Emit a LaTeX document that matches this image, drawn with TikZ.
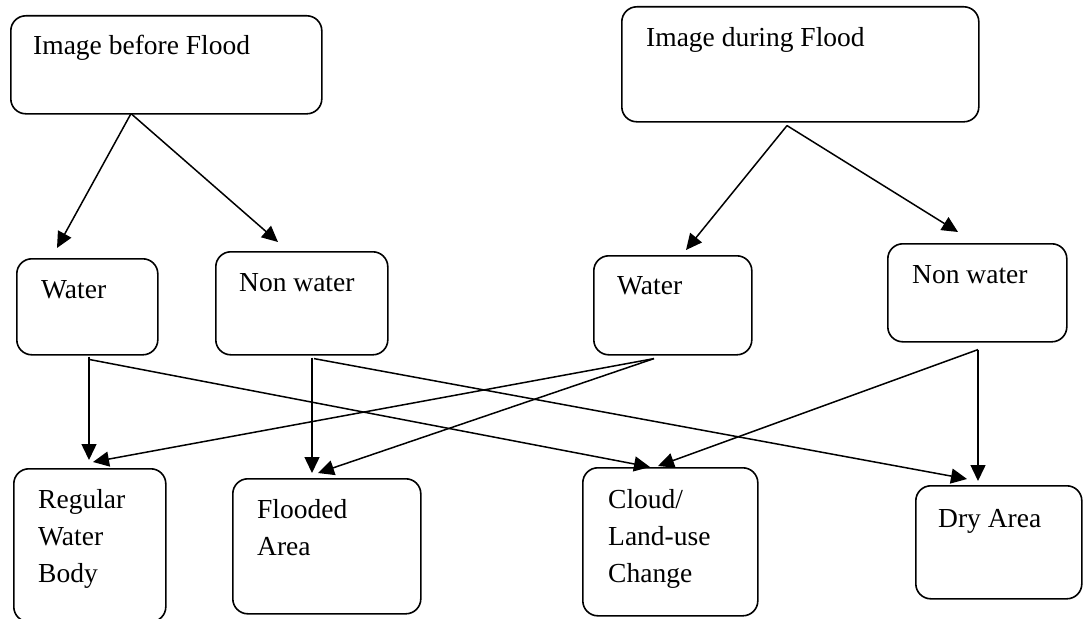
\documentclass[tikz,border=0pt]{standalone}
\usepackage{fontspec}
\setmainfont{Liberation Serif}
\usetikzlibrary{arrows.meta}
\begin{document}
\begin{tikzpicture}[x=1pt,y=-1pt,
  box/.style={draw, rounded corners=15pt, line width=1.6pt, anchor=north west, inner sep=0pt},
  lbl/.style={anchor=base west, inner sep=0pt, align=left, font=\fontsize{27.5pt}{37pt}\selectfont},
  arr/.style={line width=1.5pt, -{Triangle[length=16pt,width=15pt]}}]
\useasboundingbox (0,0) rectangle (1083,618);
% boxes
\node[box, minimum width=311pt, minimum height=98pt] (b1) at (10,15) {};
\node[box, minimum width=357pt, minimum height=115pt] (b2) at (621,6) {};
\node[box, minimum width=141pt, minimum height=96pt] (w1) at (16,258) {};
\node[box, minimum width=172pt, minimum height=103pt] (n1) at (215,251) {};
\node[box, minimum width=158pt, minimum height=99pt] (w2) at (593,255) {};
\node[box, minimum width=179pt, minimum height=98pt] (n2) at (887,243) {};
\node[box, minimum width=152pt, minimum height=153pt] (r) at (13,468) {};
\node[box, minimum width=188pt, minimum height=135pt] (f) at (232,478) {};
\node[box, minimum width=175pt, minimum height=148pt] (c) at (582,467) {};
\node[box, minimum width=166pt, minimum height=113pt] (d) at (915,485) {};
% labels (base anchor = baseline of last line)
\node[lbl] (tb1) at (33,55) {Image before Flood};
\node[lbl] (tb2) at (646,46) {Image during Flood};
\node[lbl] (tw1) at (41,298) {Water};
\node[lbl] (tn1) at (239,291) {Non water};
\node[lbl] (tw2) at (617,294) {Water};
\node[lbl] (tn2) at (912,283) {Non water};
\node[lbl] (tr) at (38,582) {Regular\\Water\\Body};
\node[lbl] (tf) at (257,555) {Flooded\\Area};
\node[lbl] (tc) at (608,582) {Cloud/\\Land-use\\Change};
\node[lbl] (td) at (938,527) {Dry Area};
% connectors
\draw[arr] ([xshift=121pt,yshift=1pt]b1.south west) -- ([xshift=41pt,yshift=10pt]w1.north west);
\draw[arr] ([xshift=121pt,yshift=1pt]b1.south west) -- ([xshift=63pt,yshift=9pt]n1.north west);
\draw[arr] ([xshift=166pt,yshift=-3pt]b2.south west) -- ([xshift=93pt,yshift=5pt]w2.north west);
\draw[arr] ([xshift=166pt,yshift=-3pt]b2.south west) -- ([xshift=71pt,yshift=11pt]n2.north west);
\draw[arr] ([xshift=73pt,yshift=-1pt]w1.south west) -- ([xshift=76pt,yshift=8pt]r.north west);
\draw[arr] ([xshift=74pt,yshift=-4pt]w1.south west) -- ([xshift=68pt,yshift=0pt]c.north west);
\draw[arr] ([xshift=97pt,yshift=-2pt]n1.south west) -- ([xshift=80pt,yshift=5pt]f.north west);
\draw[arr] ([xshift=99pt,yshift=-3pt]n1.south west) -- ([xshift=52pt,yshift=6pt]d.north west);
\draw[arr] ([xshift=61pt,yshift=-3pt]w2.south west) -- ([xshift=80pt,yshift=6pt]r.north west);
\draw[arr] ([xshift=61pt,yshift=-3pt]w2.south west) -- ([xshift=86pt,yshift=5pt]f.north west);
\draw[arr] ([xshift=91pt,yshift=-7pt]n2.south west) -- ([xshift=76pt,yshift=1pt]c.north west);
\draw[arr] ([xshift=91pt,yshift=-7pt]n2.south west) -- ([xshift=63pt,yshift=4pt]d.north west);
\end{tikzpicture}
\end{document}
